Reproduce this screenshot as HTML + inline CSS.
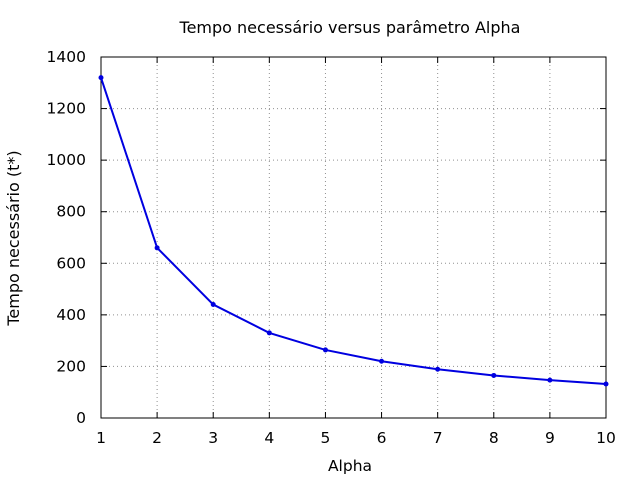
<!DOCTYPE html>
<html><head><meta charset="utf-8"><style>
body{margin:0;background:#fff;}
svg text{font-family:"DejaVu Sans","Liberation Sans",sans-serif;font-size:15.5px;fill:#000;}
</style></head><body>
<svg id="chart" width="640" height="480">
<text x="350" y="33" text-anchor="middle" style="font-size:16px">Tempo necessário versus parâmetro Alpha</text>
<text x="350" y="471" text-anchor="middle">Alpha</text>
<text transform="translate(19,238) rotate(-90)" text-anchor="middle" style="font-size:16px">Tempo necessário (t*)</text>
<g id="grid"></g><g id="axes"></g><g id="series"></g>
</svg>
<script>
const xValues=[1,2,3,4,5,6,7,8,9,10];
const yValues=[1320,660,440,330,264,220,189,165,147,132];
const xTicks=[1,2,3,4,5,6,7,8,9,10];
const yTicks=[0,200,400,600,800,1000,1200,1400];
const L=101,R=606,T=57,B=418;
const sx=v=>L+(v-1)/(9)*(R-L);
const sy=v=>B-v/1400*(B-T);
const ns="http://www.w3.org/2000/svg";
function mk(tag,attrs,parent){const e=document.createElementNS(ns,tag);for(const k in attrs)e.setAttribute(k,attrs[k]);parent.appendChild(e);return e;}
const grid=document.getElementById('grid'),axes=document.getElementById('axes'),series=document.getElementById('series');
xTicks.forEach(t=>{const x=sx(t);
 const g=mk('line',{x1:x,x2:x,y1:T,y2:B,stroke:'#909090','stroke-dasharray':'1,3'},grid);
 
 mk('line',{x1:x,x2:x,y1:B,y2:B-6,stroke:'#000'},axes);mk('line',{x1:x,x2:x,y1:T,y2:T+6,stroke:'#000'},axes);
 const tx=mk('text',{x:x,y:B+25,'text-anchor':'middle'},axes);tx.textContent=t;
 });
yTicks.forEach(t=>{const y=sy(t);
 const g=mk('line',{x1:L,x2:R,y1:y,y2:y,stroke:'#909090','stroke-dasharray':'1,3'},grid);
 
 mk('line',{x1:L,x2:L+6,y1:y,y2:y,stroke:'#000'},axes);mk('line',{x1:R,x2:R-6,y1:y,y2:y,stroke:'#000'},axes);
 const tx=mk('text',{x:L-15,y:y+5,'text-anchor':'end'},axes);tx.textContent=t;
 });
const fr=mk('rect',{x:L,y:T,width:R-L,height:B-T,fill:'none',stroke:'#000'},axes);

const pl=mk('polyline',{points:xValues.map((v,i)=>sx(v)+','+sy(yValues[i])).join(' '),fill:'none',stroke:'#0000e0','stroke-width':2},series);

xValues.forEach((v,i)=>{const c=mk('circle',{cx:sx(v),cy:sy(yValues[i]),r:2.5,fill:'#0000e0'},series);
 });
</script>
</body></html>
